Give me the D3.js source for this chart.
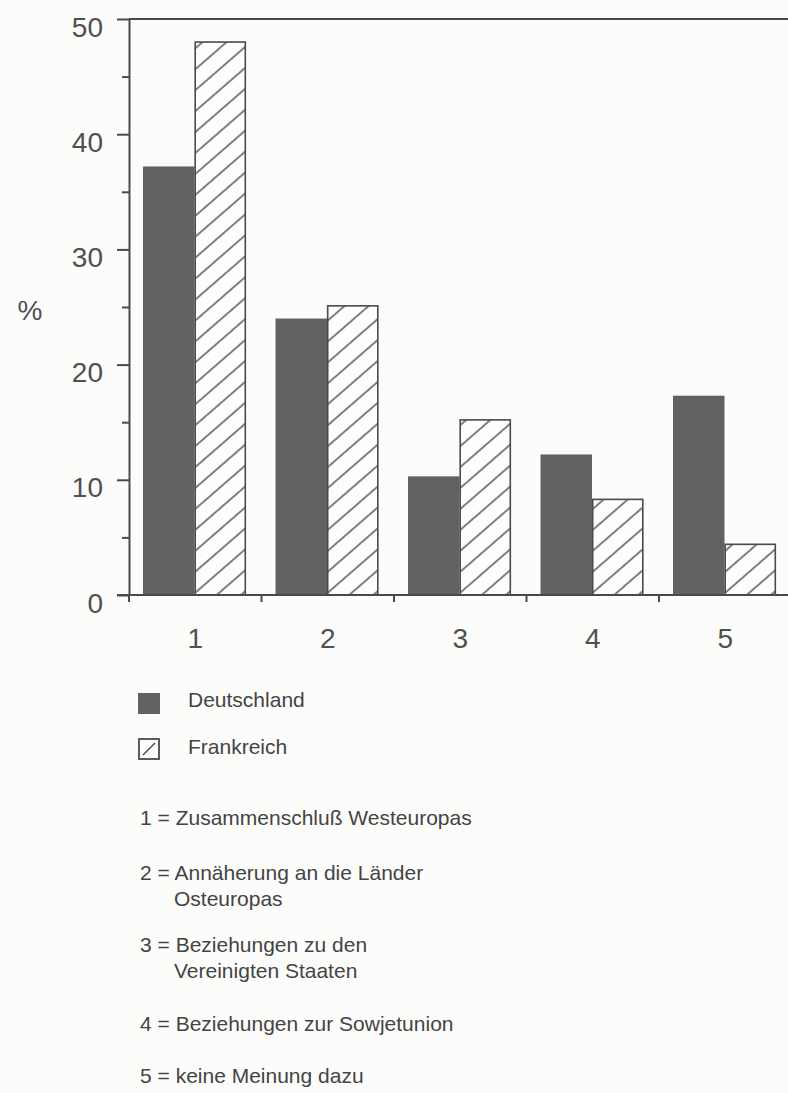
<!DOCTYPE html>
<html><head><meta charset="utf-8">
<script src="https://cdn.jsdelivr.net/npm/d3@7"></script>
<style>
html,body{margin:0;padding:0;background:#fcfcfb;}
svg{display:block;font-family:"Liberation Sans",Arial,Helvetica,sans-serif;}
</style></head>
<body>
<svg id="chart" width="788" height="1093"></svg>
<script>
const categories = ["1","2","3","4","5"];
const seriesNames = ["Deutschland","Frankreich"];
const deutschland = [37.2, 24.0, 10.3, 12.2, 17.3];
const frankreich  = [48.0, 25.1, 15.2, 8.3, 4.4];
const yMajorTicks = [0,10,20,30,40,50];
const yMinorTicks = [5,15,25,35,45];
const yLabel = "%";
const notes = [
  ["1 = ", "Zusammenschluß Westeuropas"],
  ["2 = ", "Annäherung an die Länder", "Osteuropas"],
  ["3 = ", "Beziehungen zu den", "Vereinigten Staaten"],
  ["4 = ", "Beziehungen zur Sowjetunion"],
  ["5 = ", "keine Meinung dazu"]
];

const svg = d3.select("#chart");
const W = 788;
const axisColor = "#4a4a4a", textColor = "#444", darkFill = "#626262";

const y = d3.scaleLinear().domain([0,50]).range([595,19]);
const x0 = d3.scaleBand().domain(categories).range([129, 791.5]).padding(0);
const x1 = d3.scaleBand().domain(seriesNames).range([14, 117]).padding(0);

const defs = svg.append("defs");
const pat = defs.append("pattern").attr("id","hatch").attr("patternUnits","userSpaceOnUse")
  .attr("width",15.8).attr("height",40).attr("patternTransform","rotate(49)");
pat.append("rect").attr("width",15.8).attr("height",40).attr("fill","#fdfdfc");
pat.append("line").attr("x1",1).attr("x2",1).attr("y1",0).attr("y2",40)
  .attr("stroke","#4a4a4a").attr("stroke-width",1.4);

// bars
const data = categories.map((c,i)=>({cat:c, vals:[{s:"Deutschland",v:deutschland[i]},{s:"Frankreich",v:frankreich[i]}]}));
const g = svg.selectAll("g.grp").data(data).join("g").attr("class","grp")
  .attr("transform", d=>`translate(${x0(d.cat)},0)`);
g.selectAll("rect").data(d=>d.vals).join("rect")
  .attr("x", d=>x1(d.s) + (d.s==="Frankreich"?0.7:0))
  .attr("width", d=> x1.bandwidth() - (d.s==="Frankreich"?1.4:0))
  .attr("y", d=>y(d.v))
  .attr("height", d=>y(0)-y(d.v))
  .attr("fill", d=> d.s==="Deutschland" ? darkFill : "url(#hatch)")
  .attr("stroke", d=> d.s==="Deutschland" ? "none" : "#4a4a4a")
  .attr("stroke-width", 1.6);

// top line
svg.append("line").attr("x1", x0.range()[0]).attr("x2", W).attr("y1", y(50)).attr("y2", y(50))
  .attr("stroke", axisColor).attr("stroke-width", 2);
// x axis line
svg.append("line").attr("x1", x0.range()[0]-12).attr("x2", W).attr("y1", y(0)).attr("y2", y(0))
  .attr("stroke", axisColor).attr("stroke-width", 2);
// boundary ticks below x axis
const bounds = categories.map(c=>x0(c));
svg.selectAll("line.xt").data(bounds).join("line").attr("class","xt")
  .attr("x1", d=>d).attr("x2", d=>d).attr("y1", y(0)).attr("y2", y(0)+7)
  .attr("stroke", axisColor).attr("stroke-width", 2);

// y axis
const yAxis = d3.axisLeft(y).tickValues(yMajorTicks).tickSize(12).tickSizeOuter(0).tickPadding(14)
  .tickFormat(d3.format("d"));
const ya = svg.append("g").attr("transform", `translate(${x0.range()[0]},0)`).call(yAxis);
ya.select(".domain").attr("stroke", axisColor).attr("stroke-width", 2);
ya.selectAll(".tick line").attr("stroke", axisColor).attr("stroke-width", 2);
ya.selectAll(".tick text").attr("fill", "#505050").attr("font-size", 28)
  .attr("dy", null).attr("y", 17).attr("x", -26);
const yMinor = d3.axisLeft(y).tickValues(yMinorTicks).tickSize(7).tickFormat("");
const ym = svg.append("g").attr("transform", `translate(${x0.range()[0]},0)`).call(yMinor);
ym.select(".domain").remove();
ym.selectAll(".tick line").attr("stroke", axisColor).attr("stroke-width", 2);

// x labels
const xAxis = d3.axisBottom(x0).tickSize(0).tickPadding(0);
const xa = svg.append("g").attr("transform", `translate(0,${y(0)})`).call(xAxis);
xa.select(".domain").remove();
xa.selectAll(".tick text").attr("fill", "#505050").attr("font-size", 28).attr("dy", null).attr("y", 53);

// y label
svg.append("text").attr("x", 30).attr("y", 320).attr("text-anchor","middle")
  .attr("font-size", 28).attr("fill", "#505050").text(yLabel);

// legend
const leg = svg.append("g").attr("transform","translate(138,0)");
leg.append("rect").attr("x",0).attr("y",693).attr("width",22).attr("height",21).attr("fill", darkFill);
leg.append("rect").attr("x",1).attr("y",739).attr("width",20).attr("height",20)
  .attr("fill","#fdfdfc").attr("stroke","#4a4a4a").attr("stroke-width",1.8);
leg.append("line").attr("x1",5).attr("y1",755).attr("x2",17).attr("y2",743)
  .attr("stroke","#4a4a4a").attr("stroke-width",1.4);
leg.selectAll("text.s").data(seriesNames).join("text").attr("class","s")
  .attr("x", 50).attr("y",(d,i)=> i===0 ? 707 : 754)
  .attr("font-size", 21).attr("fill", textColor).text(d=>d);

// notes
const noteY = [825, 880, 952, 1031, 1083];
const ng = svg.append("g").attr("font-size", 21).attr("fill", textColor);
notes.forEach((n,i)=>{
  const t = ng.append("text").attr("x", 140).attr("y", noteY[i]);
  t.append("tspan").text(n[0]);
  t.append("tspan").text(n[1]);
  if (n[2]) ng.append("text").attr("x", 174).attr("y", noteY[i]+26).text(n[2]);
});
</script>
</body></html>
